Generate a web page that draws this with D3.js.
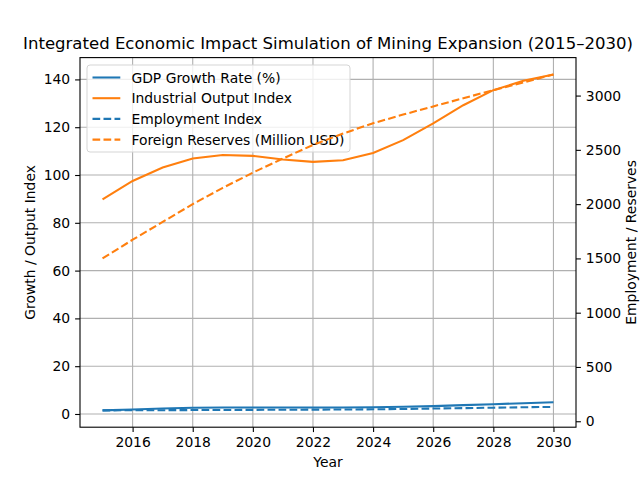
<!DOCTYPE html>
<html lang="en">
<head>
<meta charset="UTF-8">
<script src="https://d3js.org/d3.v7.min.js"></script>
<style>
    body { margin: 0; background: #fff; }
    svg text { font-family: "DejaVu Sans", sans-serif; fill: #000; }
</style>
</head>
<body>
<script>

    var years = [2015, 2016, 2017, 2018, 2019, 2020, 2021, 2022, 2023, 2024, 2025, 2026, 2027, 2028, 2029, 2030];
    var gdpGrowth = [1.5, 1.9, 2.3, 2.6, 2.7, 2.7, 2.7, 2.7, 2.7, 2.8, 3.0, 3.3, 3.7, 4.1, 4.5, 4.9];
    var industrialOutput = [89.8, 97.5, 103.1, 106.9, 108.4, 108.0, 106.5, 105.5, 106.2, 109.2, 114.6, 121.6, 129.2, 135.5, 139.4, 142.1];
    var employment = [100, 101, 102, 103, 104, 105, 106, 107, 108, 110, 113, 117, 121, 125, 129, 132];
    var reserves = [1500, 1672, 1836, 2000, 2150, 2290, 2420, 2545, 2650, 2745, 2825, 2900, 2975, 3050, 3120, 3195];

    var xTicks = [2016, 2018, 2020, 2022, 2024, 2026, 2028, 2030];
    var leftTicks = [0, 20, 40, 60, 80, 100, 120, 140];
    var rightTicks = [0, 500, 1000, 1500, 2000, 2500, 3000];

    var width = 640, height = 480;
    var plotLeft = 80, plotRight = 576, plotTop = 57.6, plotBottom = 427.2;
    var blue = "#1f77b4", orange = "#ff7f0e";
    var fs = 13.9;

    var svg = d3.select("body").append("svg")
        .attr("width", width)
        .attr("height", height);

    // matplotlib style 5% margins
    function padded(lo, hi) {
        var m = (hi - lo) * 0.05;
        return [lo - m, hi + m];
    }

    var x = d3.scaleLinear().domain(padded(2015, 2030)).range([plotLeft, plotRight]);
    var leftVals = gdpGrowth.concat(industrialOutput);
    var rightVals = employment.concat(reserves);
    var yL = d3.scaleLinear()
        .domain(padded(d3.min(leftVals), d3.max(leftVals)))
        .range([plotBottom, plotTop]);
    var yR = d3.scaleLinear()
        .domain(padded(d3.min(rightVals), d3.max(rightVals)))
        .range([plotBottom, plotTop]);

    // grid
    var grid = svg.append("g");
    grid.selectAll(".gx").data(xTicks).enter().append("line")
        .attr("x1", function (d) { return x(d); })
        .attr("x2", function (d) { return x(d); })
        .attr("y1", plotTop).attr("y2", plotBottom)
        .attr("stroke", "#b0b0b0").attr("stroke-width", 1.1);
    grid.selectAll(".gy").data(leftTicks).enter().append("line")
        .attr("x1", plotLeft).attr("x2", plotRight)
        .attr("y1", function (d) { return yL(d); })
        .attr("y2", function (d) { return yL(d); })
        .attr("stroke", "#b0b0b0").attr("stroke-width", 1.1);

    function drawLine(values, scale, color, dashed) {
        var line = d3.line()
            .x(function (d, i) { return x(years[i]); })
            .y(function (d) { return scale(d); });
        svg.append("path")
            .datum(values)
            .attr("d", line)
            .attr("fill", "none")
            .attr("stroke", color)
            .attr("stroke-width", 2.08)
            .attr("stroke-dasharray", dashed ? "7.7,3.3" : null);
    }

    drawLine(gdpGrowth, yL, blue, false);
    drawLine(industrialOutput, yL, orange, false);

    // legend
    var legendItems = [
        { label: "GDP Growth Rate (%)", color: blue, dashed: false },
        { label: "Industrial Output Index", color: orange, dashed: false },
        { label: "Employment Index", color: blue, dashed: true },
        { label: "Foreign Reserves (Million USD)", color: orange, dashed: true }
    ];
    var legend = svg.append("g").attr("transform", "translate(87,65)");
    legend.append("rect")
        .attr("width", 263).attr("height", 87)
        .attr("rx", 3)
        .attr("fill", "rgba(255,255,255,0.8)")
        .attr("stroke", "#d5d5d5").attr("stroke-width", 1);
    legendItems.forEach(function (item, i) {
        var cy = 12.5 + i * 20.7;
        legend.append("line")
            .attr("x1", 5.5).attr("x2", 33.3)
            .attr("y1", cy).attr("y2", cy)
            .attr("stroke", item.color).attr("stroke-width", 2.08)
            .attr("stroke-dasharray", item.dashed ? "7.7,3.3" : null);
        legend.append("text")
            .attr("x", 44.4).attr("y", cy + 5)
            .attr("font-size", fs)
            .text(item.label);
    });

    drawLine(employment, yR, blue, true);
    drawLine(reserves, yR, orange, true);

    // axes
    function styleAxis(g) {
        g.select(".domain").remove();
        g.selectAll(".tick line").attr("stroke", "#000").attr("stroke-width", 1.1);
        g.selectAll(".tick text").attr("font-size", fs).attr("font-family", "DejaVu Sans");
    }

    svg.append("g")
        .attr("transform", "translate(0," + plotBottom + ")")
        .call(d3.axisBottom(x).tickValues(xTicks).tickFormat(d3.format("d")).tickSize(4.9).tickPadding(4.9))
        .call(styleAxis);

    svg.append("g")
        .attr("transform", "translate(" + plotLeft + ",0)")
        .call(d3.axisLeft(yL).tickValues(leftTicks).tickSize(4.9).tickPadding(4.9))
        .call(styleAxis);

    svg.append("g")
        .attr("transform", "translate(" + plotRight + ",0)")
        .call(d3.axisRight(yR).tickValues(rightTicks).tickFormat(d3.format("d")).tickSize(4.9).tickPadding(4.9))
        .call(styleAxis);

    // frame
    svg.append("rect")
        .attr("x", plotLeft).attr("y", plotTop)
        .attr("width", plotRight - plotLeft).attr("height", plotBottom - plotTop)
        .attr("fill", "none").attr("stroke", "#000").attr("stroke-width", 1.1);

    // titles
    svg.append("text")
        .attr("x", (plotLeft + plotRight) / 2).attr("y", 49)
        .attr("text-anchor", "middle")
        .attr("font-size", 16.55)
        .text("Integrated Economic Impact Simulation of Mining Expansion (2015\u20132030)");

    svg.append("text")
        .attr("x", (plotLeft + plotRight) / 2).attr("y", 467)
        .attr("text-anchor", "middle")
        .attr("font-size", fs)
        .text("Year");

    svg.append("text")
        .attr("transform", "translate(35," + ((plotTop + plotBottom) / 2) + ") rotate(-90)")
        .attr("text-anchor", "middle")
        .attr("font-size", fs)
        .text("Growth / Output Index");

    svg.append("text")
        .attr("transform", "translate(636," + ((plotTop + plotBottom) / 2) + ") rotate(-90)")
        .attr("text-anchor", "middle")
        .attr("font-size", fs)
        .text("Employment / Reserves");

</script>
</body>
</html>
